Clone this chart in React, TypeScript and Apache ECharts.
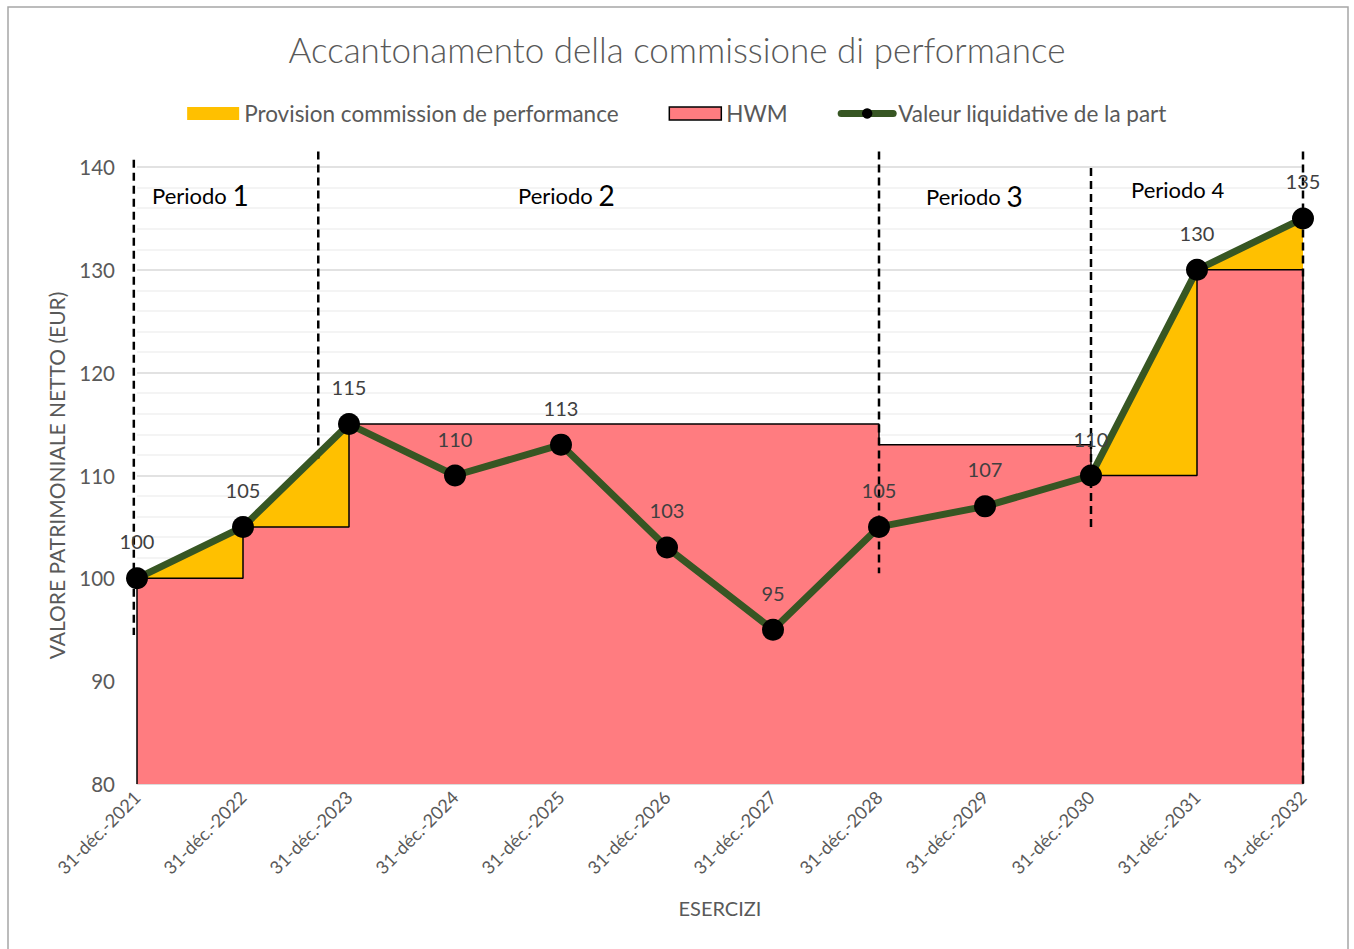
import React, { useEffect, useRef } from "react";
import * as echarts from "echarts";

const categories = [
  "31-déc.-2021",
  "31-déc.-2022",
  "31-déc.-2023",
  "31-déc.-2024",
  "31-déc.-2025",
  "31-déc.-2026",
  "31-déc.-2027",
  "31-déc.-2028",
  "31-déc.-2029",
  "31-déc.-2030",
  "31-déc.-2031",
  "31-déc.-2032",
];
const navValues = [100, 105, 115, 110, 113, 103, 95, 105, 107, 110, 130, 135];
const hwmValues = [100, 105, 115, 115, 115, 115, 115, 113, 113, 110, 130, 130];
// period boundary positions (in category-index units), with top and bottom values
const boundaryPos = [-0.03, 1.71, 7, 9, 11];
const boundaryTop = [140.7, 141.5, 141.5, 139.9, 141.5];
const boundaryBottom = [94.5, 111.5, 100.5, 105, 80];
const periodNames = ["1", "2", "3", "4"];
const yMin = 80;
const yMax = 140;
const yInterval = 10;

const FONT = "Lato, 'Open Sans', sans-serif";
const GREY = "#595959";

export default function App() {
  const ref = useRef<HTMLDivElement>(null);
  useEffect(() => {
    if (!ref.current) return;
    const chart = echarts.init(ref.current, null, { renderer: "svg" });
    const periodPos = [
      { x: 152, y: 196, big: true },
      { x: 518, y: 196, big: true },
      { x: 926, y: 197, big: true },
      { x: 1131, y: 193, big: false },
    ];
    const option: any = {
      animation: false,
      textStyle: { fontFamily: FONT },
      title: {
        text: "Accantonamento della commissione di performance",
        left: "center",
        top: 26,
        textStyle: { fontFamily: FONT, fontSize: 35, fontWeight: 300, color: GREY },
      },
      legend: {
        top: 97,
        left: "center",
        itemWidth: 52,
        itemHeight: 13,
        itemGap: 50,
        textStyle: { fontFamily: FONT, fontSize: 22.5, color: GREY },
        data: [
          { name: "Provision commission de performance", icon: "rect", itemStyle: { color: "#FFC000", borderWidth: 0 } },
          { name: "HWM", icon: "rect", itemStyle: { color: "#FF7C80", borderColor: "#000", borderWidth: 1.5 } },
          {
            name: "Valeur liquidative de la part",
            lineStyle: { color: "#375623", width: 7, cap: "round" },
            itemStyle: { color: "#000" },
          },
        ],
      },
      grid: { left: 137, right: 51, top: 167, bottom: 165 },
      xAxis: {
        type: "category",
        data: categories,
        boundaryGap: false,
        axisLine: { lineStyle: { color: "#D9D9D9", width: 1.5 } },
        axisTick: { show: false },
        axisLabel: { rotate: 45, fontSize: 18, color: GREY, margin: 10, fontFamily: FONT },
        name: "ESERCIZI",
        nameLocation: "middle",
        nameGap: 114,
        nameTextStyle: { fontSize: 20, color: GREY, fontFamily: FONT },
      },
      yAxis: {
        type: "value",
        min: yMin,
        max: yMax,
        interval: yInterval,
        axisLine: { show: false },
        axisTick: { show: false },
        axisLabel: { fontSize: 20.5, color: GREY, margin: 22, fontFamily: FONT },
        splitLine: { lineStyle: { color: "#D9D9D9", width: 1.5 } },
        minorTick: { show: false, splitNumber: 5 },
        minorSplitLine: { show: true, lineStyle: { color: "#F0F0F0", width: 1.5 } },
        name: "VALORE PATRIMONIALE NETTO (EUR)",
        nameLocation: "middle",
        nameGap: 70,
        nameTextStyle: { fontSize: 21, color: GREY, fontFamily: FONT },
      },
      series: [
        {
          name: "Provision commission de performance",
          type: "line",
          data: navValues,
          color: "#FFC000",
          showSymbol: false,
          symbol: "none",
          lineStyle: { width: 0 },
          areaStyle: { color: "#FFC000", opacity: 1 },
          z: 1,
          silent: true,
        },
        {
          name: "HWM",
          type: "line",
          step: "end",
          data: hwmValues,
          color: "#FF7C80",
          showSymbol: false,
          symbol: "none",
          lineStyle: { color: "#000", width: 1.5 },
          areaStyle: { color: "#FF7C80", opacity: 1 },
          z: 2,
          silent: true,
          markLine: {
            silent: true,
            symbol: "none",
            label: { show: false },
            lineStyle: { color: "#000", width: 1.5, type: "solid" },
            data: [
              [{ coord: [categories[0], yMin] }, { coord: [categories[0], hwmValues[0]] }],
              [
                { coord: [categories[categories.length - 1], yMin] },
                { coord: [categories[categories.length - 1], hwmValues[hwmValues.length - 1]] },
              ],
            ],
          },
        },
        {
          name: "boundaries",
          type: "custom",
          z: 4,
          silent: true,
          clip: false,
          data: boundaryPos.map((pos, i) => [Math.round(Math.max(0, pos)), boundaryTop[i], boundaryBottom[i]]),
          encode: { x: 0, y: [1, 2] },
          renderItem: (params: any, api: any) => {
            const pos = boundaryPos[params.dataIndex];
            const c0 = api.coord([0, api.value(1)]);
            const c1 = api.coord([1, api.value(1)]);
            const c2 = api.coord([0, api.value(2)]);
            const x = c0[0] + (c1[0] - c0[0]) * pos;
            return {
              type: "line",
              shape: { x1: x, y1: c0[1], x2: x, y2: c2[1] },
              style: { stroke: "#000", lineWidth: 2.5, lineDash: [8, 5] },
            };
          },
        },
        {
          name: "Valeur liquidative de la part",
          type: "line",
          data: navValues,
          color: "#375623",
          symbol: "circle",
          symbolSize: 22,
          itemStyle: { color: "#000" },
          lineStyle: { color: "#375623", width: 7 },
          label: {
            show: true,
            position: "top",
            distance: 16,
            fontSize: 20,
            color: "#404040",
            fontFamily: FONT,
          },
          z: 5,
        },
      ],
      graphic: [
        {
          type: "rect",
          silent: true,
          shape: { x: 8, y: 7, width: 1340, height: 960 },
          style: { fill: "none", stroke: "#A6A6A6", lineWidth: 1.5 },
        },
        ...periodPos.map((p, i) => ({
          type: "text",
          left: p.x,
          top: p.y - 15,
          silent: true,
          z: 10,
          style: {
            text: "{a|Periodo }{" + (p.big ? "b" : "c") + "|" + periodNames[i] + "}",
            rich: {
              a: { fontSize: 22, fontFamily: FONT, color: "#000" },
              b: { fontSize: 28, fontFamily: FONT, color: "#000" },
              c: { fontSize: 22, fontFamily: FONT, color: "#000" },
            },
          },
        })),
      ],
    };
    chart.setOption(option);
    return () => chart.dispose();
  }, []);
  return (
    <div
      ref={ref}
      style={{ position: "fixed", left: 0, top: 0, width: 1354, height: 949, background: "#fff" }}
    />
  );
}
